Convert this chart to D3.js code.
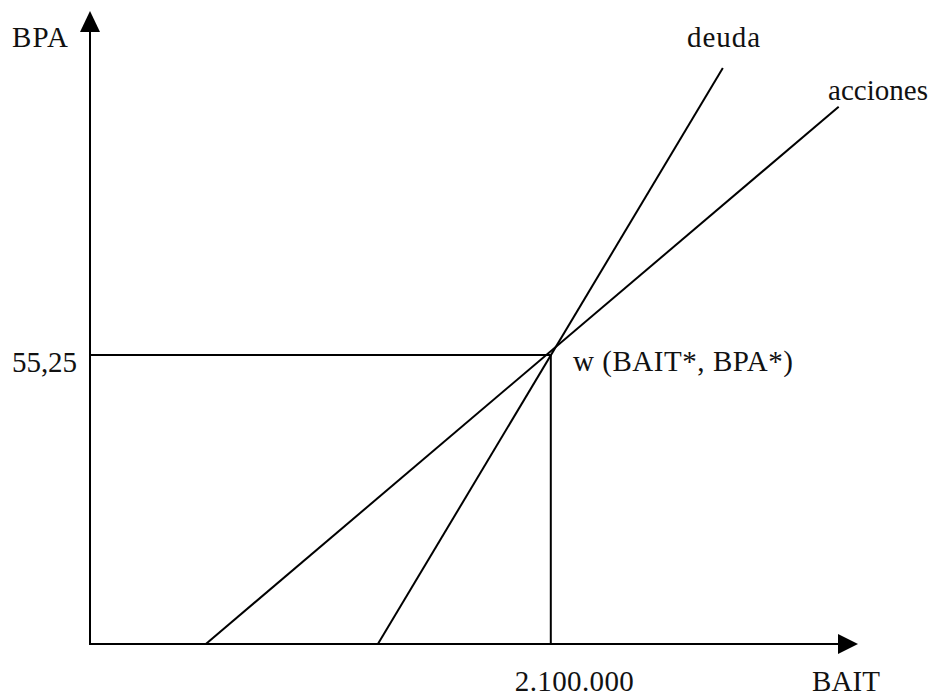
<!DOCTYPE html>
<html><head><meta charset="utf-8">
<script src="https://cdn.jsdelivr.net/npm/d3@7"></script>
<style>body{margin:0;background:#fff}text{font-family:"Liberation Serif","DejaVu Serif",serif;fill:#111}</style>
</head><body>
<svg id="c" width="931" height="698"></svg>
<script>
// data
const xLabel = "BAIT";
const yLabel = "BPA";
const acciones = [[528000, 0], [3412000, 102.7]];
const deuda = [[1312000, 0], [2884000, 110.1]];
const breakEven = [2100000, 55.25];
const xTickLabels = ["2.100.000"];
const yTickLabels = ["55,25"];
const seriesNames = ["deuda", "acciones"];
const pointLabel = "w (BAIT*, BPA*)";

const svg = d3.select("#c");
const x = d3.scaleLinear().domain([0, 3500000]).range([90, 858]);
const y = d3.scaleLinear().domain([0, 121]).range([644, 11]);
const fs = 29;

// axes
svg.append("line").attr("x1", x(0)).attr("x2", x(3500000) - 20).attr("y1", y(0)).attr("y2", y(0))
  .attr("stroke", "#000").attr("stroke-width", 2);
svg.append("line").attr("x1", x(0)).attr("x2", x(0)).attr("y1", y(0) + 1).attr("y2", y(121) + 21)
  .attr("stroke", "#000").attr("stroke-width", 2);
// arrowheads
const xe = x(3500000), ye = y(121);
svg.append("path").attr("d", `M${xe},${y(0)} L${xe - 20},${y(0) - 10} L${xe - 20},${y(0) + 10} Z`).attr("fill", "#000");
svg.append("path").attr("d", `M${x(0)},${ye} L${x(0) - 10},${ye + 21} L${x(0) + 10},${ye + 21} Z`).attr("fill", "#000");

// guide lines
svg.append("line").attr("x1", x(0)).attr("x2", x(breakEven[0])).attr("y1", y(breakEven[1])).attr("y2", y(breakEven[1]))
  .attr("stroke", "#000").attr("stroke-width", 2);
svg.append("line").attr("x1", x(breakEven[0])).attr("x2", x(breakEven[0])).attr("y1", y(breakEven[1])).attr("y2", y(0))
  .attr("stroke", "#000").attr("stroke-width", 2);

// series lines
const line = d3.line().x(d => x(d[0])).y(d => y(d[1]));
[deuda, acciones].forEach(s => {
  svg.append("path").attr("d", line(s)).attr("fill", "none").attr("stroke", "#000").attr("stroke-width", 2);
});

// labels
function label(tx, ty, str, len, anchor) {
  svg.append("text").attr("x", tx).attr("y", ty).attr("font-size", fs)
    .attr("text-anchor", anchor || "start").attr("textLength", len).text(str);
}
label(12, 47, yLabel, 56);
label(812, 691, xLabel, 68);
label(x(breakEven[0]) - 36, 691, xTickLabels[0], 119);
label(12, y(breakEven[1]) + 17, yTickLabels[0], 65);
label(687, 47, seriesNames[0], 73);
label(828, 100, seriesNames[1], 100);
label(573, 371, pointLabel, 220);
</script>
</body></html>
